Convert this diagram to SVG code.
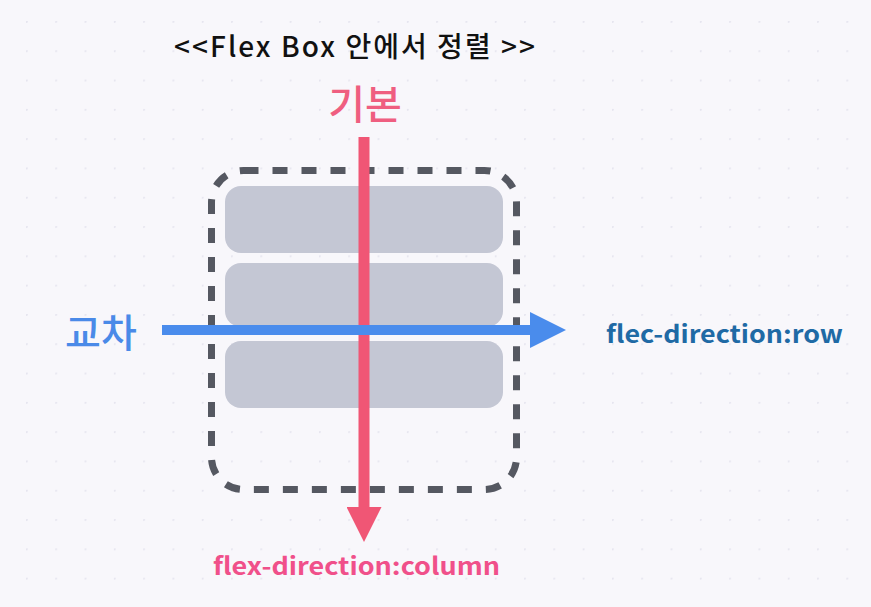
<svg xmlns="http://www.w3.org/2000/svg" width="871" height="607" viewBox="0 0 871 607">
  <defs>
    <pattern id="dots" x="26" y="21" width="29.3" height="29.3" patternUnits="userSpaceOnUse">
      <circle cx="0.8" cy="0.8" r="1.1" fill="#e6e5ef"/>
    </pattern>
    <marker id="headPink" viewBox="0 0 35 35" refX="0" refY="17.5" markerWidth="35" markerHeight="35" markerUnits="userSpaceOnUse" orient="auto">
      <path d="M0,0 L35,17.5 L0,35 Z" fill="#f05675"/>
    </marker>
    <marker id="headBlue" viewBox="0 0 36 36" refX="0" refY="18" markerWidth="36" markerHeight="36" markerUnits="userSpaceOnUse" orient="auto">
      <path d="M0,0 L36,18 L0,36 Z" fill="#4a8cec"/>
    </marker>
  </defs>
  <style>
    .k { font-family: "Noto Sans CJK KR", "Noto Sans", sans-serif; }
    .item { fill: #c4c7d4; }
  </style>
  <rect width="871" height="607" fill="#f8f7fb"/>
  <rect width="871" height="607" fill="url(#dots)"/>

  <g id="title">
    <text class="k" x="174" y="57" font-size="28" font-weight="500" fill="#111" textLength="361" lengthAdjust="spacing">&lt;&lt;Flex Box 안에서 정렬 &gt;&gt;</text>
  </g>

  <g id="container">
    <rect x="211.5" y="170.5" width="305" height="319" rx="32" fill="none" stroke="#555861" stroke-width="7" stroke-dasharray="15 14"/>
  </g>
  <g id="item1"><rect class="item" x="225" y="186" width="278" height="67" rx="16"/></g>
  <g id="item2"><rect class="item" x="225" y="263" width="278" height="64" rx="16"/></g>
  <g id="item3"><rect class="item" x="225" y="341" width="278" height="67" rx="16"/></g>

  <g id="connectors">
    <line x1="364" y1="137" x2="364" y2="507" stroke="#f05675" stroke-width="11" marker-end="url(#headPink)"/>
    <line x1="162" y1="330" x2="530" y2="330" stroke="#4a8cec" stroke-width="10" marker-end="url(#headBlue)"/>
  </g>

  <g id="label-main">
    <text class="k" x="365" y="119" text-anchor="middle" font-size="40" font-weight="500" fill="#ef5e80">기본</text>
  </g>
  <g id="label-cross">
    <text class="k" x="101" y="347" text-anchor="middle" font-size="39" font-weight="500" fill="#4a8ae8">교차</text>
  </g>
  <g id="label-row">
    <text class="k" x="606" y="343" font-size="24" font-weight="bold" fill="#1f6aa5" textLength="237" lengthAdjust="spacingAndGlyphs">flec-direction:row</text>
  </g>
  <g id="label-column">
    <text class="k" x="213" y="575" font-size="24" font-weight="bold" fill="#f0508a" textLength="287" lengthAdjust="spacingAndGlyphs">flex-direction:column</text>
  </g>
</svg>
